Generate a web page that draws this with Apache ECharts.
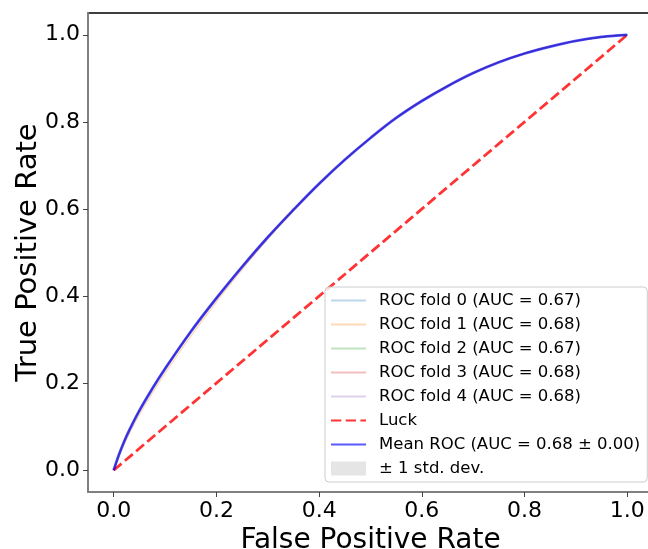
<!DOCTYPE html>
<html>
<head>
<meta charset="utf-8">
<script src="https://cdn.jsdelivr.net/npm/echarts@6/dist/echarts.min.js"></script>
<style>
  html, body { margin: 0; padding: 0; background: #fff; }
  #chart { width: 648px; height: 549px; }
</style>
</head>
<body>
<div id="chart"></div>
<script>
// false positive rate grid shared by all curves
const fpr = [0, 0.01, 0.02, 0.03, 0.05, 0.075, 0.1, 0.15, 0.2, 0.25, 0.3, 0.35, 0.4,
  0.45, 0.5, 0.55, 0.6, 0.65, 0.7, 0.75, 0.8, 0.85, 0.9, 0.95, 1.0]

const tprFold0 = [0, 0.034, 0.064, 0.09, 0.136, 0.186, 0.232, 0.317, 0.394, 0.467, 0.535, 0.598,
  0.658, 0.713, 0.763, 0.809, 0.848, 0.882, 0.912, 0.937, 0.957, 0.973, 0.986, 0.995, 1.0]
const tprFold1 = [0, 0.031, 0.058, 0.083, 0.128, 0.177, 0.223, 0.308, 0.387, 0.461, 0.531, 0.596,
  0.657, 0.713, 0.764, 0.81, 0.849, 0.883, 0.913, 0.938, 0.958, 0.974, 0.986, 0.995, 1.0]
const tprFold2 = [0, 0.035, 0.065, 0.091, 0.137, 0.187, 0.233, 0.318, 0.395, 0.468, 0.536, 0.599,
  0.659, 0.713, 0.763, 0.809, 0.848, 0.882, 0.912, 0.937, 0.957, 0.973, 0.986, 0.995, 1.0]
const tprFold3 = [0, 0.036, 0.066, 0.092, 0.138, 0.188, 0.234, 0.319, 0.396, 0.468, 0.535, 0.598,
  0.658, 0.713, 0.763, 0.809, 0.848, 0.882, 0.912, 0.937, 0.957, 0.973, 0.986, 0.995, 1.0]
const tprFold4 = [0, 0.035, 0.065, 0.091, 0.137, 0.187, 0.233, 0.318, 0.395, 0.467, 0.535, 0.598,
  0.658, 0.713, 0.763, 0.809, 0.848, 0.882, 0.912, 0.937, 0.957, 0.973, 0.986, 0.995, 1.0]

const tprMean = [0, 0.035, 0.065, 0.091, 0.137, 0.187, 0.233, 0.318, 0.395, 0.467, 0.535, 0.598,
  0.658, 0.713, 0.763, 0.809, 0.848, 0.882, 0.912, 0.937, 0.957, 0.973, 0.986, 0.995, 1.0]
const tprStd = [0, 0.002, 0.002, 0.003, 0.003, 0.003, 0.004, 0.004, 0.004, 0.003, 0.003, 0.003,
  0.002, 0.002, 0.002, 0.002, 0.002, 0.002, 0.001, 0.001, 0.001, 0.001, 0.001, 0.0, 0.0]

const luckX = [0, 1]
const luckY = [0, 1]

const foldNames = [
  'ROC fold 0 (AUC = 0.67)',
  'ROC fold 1 (AUC = 0.68)',
  'ROC fold 2 (AUC = 0.67)',
  'ROC fold 3 (AUC = 0.68)',
  'ROC fold 4 (AUC = 0.68)'
]
const foldColors = ['#1f77b4', '#ff7f0e', '#2ca02c', '#d62728', '#9467bd']
const foldTprs = [tprFold0, tprFold1, tprFold2, tprFold3, tprFold4]
const tickValues = [0, 0.2, 0.4, 0.6, 0.8, 1.0]

const FONT = 'DejaVu Sans'

function pairs(xs, ys) {
  return xs.map((x, i) => [x, ys[i]])
}

const chart = echarts.init(document.getElementById('chart'), null, { renderer: 'canvas' })

const foldSeries = foldNames.map((name, i) => ({
  name: name,
  type: 'line',
  data: pairs(fpr, foldTprs[i]),
  symbol: 'none',
  smooth: 0.4,
  lineStyle: { color: foldColors[i], width: 1.4, opacity: 0.3 },
  itemStyle: { color: foldColors[i] },
  z: 2
}))

// grey band of mean +/- std, drawn as one polygon through the axis scales
function renderBand(params, api) {
  const upper = fpr.map((x, i) => api.coord([x, tprMean[i] + tprStd[i]]))
  const lower = fpr.map((x, i) => api.coord([x, tprMean[i] - tprStd[i]])).reverse()
  return {
    type: 'polygon',
    shape: { points: upper.concat(lower) },
    style: { fill: 'rgba(128,128,128,0.2)' }
  }
}

const option = {
  animation: false,
  backgroundColor: '#fff',
  grid: {
    left: 88,
    top: 13,
    width: 565,
    height: 479,
    outerBoundsMode: 'none',
    containLabel: false,
    show: true,
    borderColor: '#000',
    borderWidth: 1.5,
    backgroundColor: 'transparent'
  },
  legend: {
    orient: 'vertical',
    left: 325,
    top: 287,
    padding: [5, 7, 5, 5],
    itemWidth: 35,
    itemHeight: 14,
    itemGap: 7,
    itemStyle: { opacity: 0 },
    backgroundColor: 'rgba(255,255,255,0.8)',
    borderColor: '#cccccc',
    borderWidth: 1,
    borderRadius: 4,
    textStyle: { fontFamily: FONT, fontSize: 16.5, color: '#000', padding: [0, 0, 0, 8] },
    data: foldNames.concat([
      'Luck',
      'Mean ROC (AUC = 0.68 ± 0.00)',
      { name: '± 1 std. dev.', icon: 'rect', itemStyle: { color: '#e5e5e5', opacity: 1 } }
    ])
  },
  xAxis: {
    type: 'value',
    min: -0.05,
    max: 1.05,
    name: 'False Positive Rate',
    nameLocation: 'middle',
    nameGap: 31,
    nameTextStyle: { fontFamily: FONT, fontSize: 28, color: '#000' },
    splitLine: { show: false },
    axisLine: { show: true, onZero: false, lineStyle: { color: '#808080', width: 2 } },
    axisTick: { show: true, length: 5, customValues: tickValues, lineStyle: { color: '#444' } },
    axisLabel: {
      customValues: tickValues,
      formatter: v => v.toFixed(1),
      fontFamily: FONT, fontSize: 22, color: '#000', margin: 8
    }
  },
  yAxis: {
    type: 'value',
    min: -0.05,
    max: 1.05,
    name: 'True Positive Rate',
    nameLocation: 'middle',
    nameGap: 45,
    nameMoveOverlap: false,
    nameTextStyle: { fontFamily: FONT, fontSize: 29, color: '#000' },
    splitLine: { show: false },
    axisLine: { show: true, onZero: false, lineStyle: { color: '#808080', width: 2 } },
    axisTick: { show: true, length: 5, customValues: tickValues, lineStyle: { color: '#444' } },
    axisLabel: {
      customValues: tickValues,
      formatter: v => v.toFixed(1),
      fontFamily: FONT, fontSize: 22, color: '#000', margin: 8
    }
  },
  series: foldSeries.concat([
    {
      name: 'Luck',
      type: 'line',
      data: pairs(luckX, luckY),
      symbol: 'none',
      lineStyle: { color: 'rgba(255,0,0,0.8)', width: 2.8, type: [10.3, 4.4] },
      itemStyle: { color: 'rgba(255,0,0,0.8)' },
      z: 3
    },
    {
      name: '± 1 std. dev.',
      type: 'custom',
      data: [[0, 0]],
      renderItem: renderBand,
      itemStyle: { color: '#e5e5e5' },
      z: 1
    },
    {
      name: 'Mean ROC (AUC = 0.68 ± 0.00)',
      type: 'line',
      data: pairs(fpr, tprMean),
      symbol: 'none',
      smooth: 0.4,
      lineStyle: { color: 'rgba(0,0,255,0.65)', width: 2.8 },
      itemStyle: { color: 'rgba(0,0,255,0.8)' },
      z: 4
    }
  ])
}

chart.setOption(option)
</script>
</body>
</html>
